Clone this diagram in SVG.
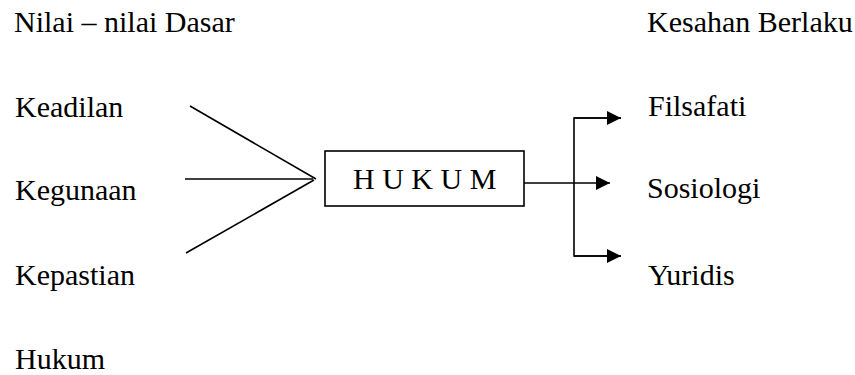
<svg xmlns="http://www.w3.org/2000/svg" width="855" height="375" viewBox="0 0 855 375">
<style>
text{font-family:"Liberation Serif","Times New Roman",serif;font-size:30px;fill:#000}
.ln{stroke:#000;stroke-width:1.6;fill:none}
</style>
<defs>
<marker id="ah" markerWidth="14" markerHeight="14" viewBox="0 0 14 14" refX="14" refY="7" orient="auto" markerUnits="userSpaceOnUse">
<path d="M0,0 L14,7 L0,14 Z" fill="#000"/>
</marker>
</defs>
<rect width="855" height="375" fill="#fff"/>
<g id="labels-left">
<text x="14" y="32">Nilai – nilai Dasar</text>
<text x="15" y="117">Keadilan</text>
<text x="15" y="200">Kegunaan</text>
<text x="15" y="285">Kepastian</text>
<text x="15" y="369">Hukum</text>
</g>
<g id="labels-right">
<text x="647" y="32">Kesahan Berlaku</text>
</g>
<g id="hukum">
<rect x="325" y="151" width="199" height="55" class="ln"/>
<text x="353" y="189">H U K U M</text>
</g>
<g id="filsafati"><text x="648" y="116">Filsafati</text></g>
<g id="sosiologi"><text x="647" y="198">Sosiologi</text></g>
<g id="yuridis"><text x="648" y="285">Yuridis</text></g>
<g id="connectors">
<line x1="190" y1="106" x2="316" y2="179" class="ln"/>
<line x1="185" y1="179" x2="313" y2="179" class="ln"/>
<line x1="186" y1="253" x2="314" y2="180" class="ln"/>
<line x1="524" y1="183" x2="610" y2="183" class="ln" marker-end="url(#ah)"/>
<polyline points="621,118 574,118 574,256 621,256" class="ln" stroke-linejoin="miter"/>
<line x1="574" y1="118" x2="621" y2="118" class="ln" marker-end="url(#ah)"/>
<line x1="574" y1="256" x2="621" y2="256" class="ln" marker-end="url(#ah)"/>
</g>
</svg>
